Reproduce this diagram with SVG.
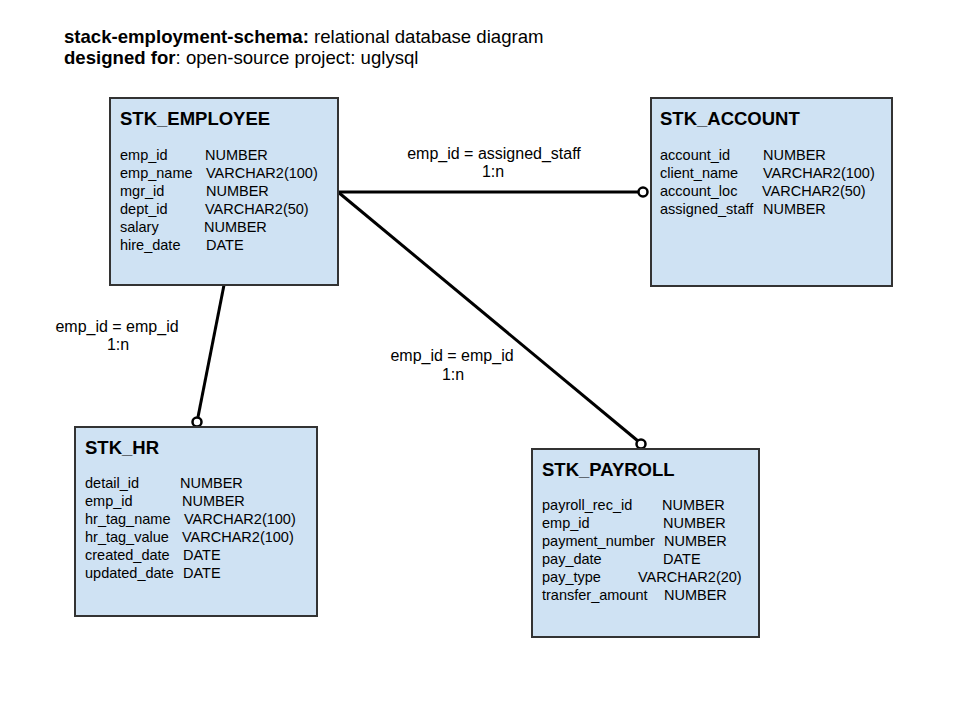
<svg xmlns="http://www.w3.org/2000/svg" width="960" height="720" viewBox="0 0 960 720">
<style>
text{font-family:"Liberation Sans",Arial,sans-serif;fill:#000}
.box{fill:#cfe2f3;stroke:#333;stroke-width:2}
.ttl{font-size:18.5px;font-weight:bold}
.fld{font-size:14.5px}
.lbl{font-size:16px;text-anchor:middle}
.hdr{font-size:18.6px}
.conn{stroke:#000;stroke-width:3;fill:none}
.end{fill:#fff;stroke:#000;stroke-width:2.5}
</style>
<rect width="960" height="720" fill="#fff"/>
<g id="header">
<text class="hdr" x="64" y="43"><tspan font-weight="bold">stack-employment-schema:</tspan> relational database diagram</text>
<text class="hdr" x="64" y="64"><tspan font-weight="bold">designed for</tspan>: open-source project: uglysql</text>
</g>
<g id="connectors">
<line class="conn" x1="338" y1="192" x2="639" y2="192"/>
<circle class="end" cx="643" cy="192" r="4.5"/>
<line class="conn" x1="224" y1="285" x2="198" y2="417"/>
<circle class="end" cx="197" cy="422" r="4.5"/>
<line class="conn" x1="338" y1="192" x2="638" y2="441"/>
<circle class="end" cx="641" cy="444" r="4.5"/>
<text class="lbl" x="494" y="159">emp_id = assigned_staff</text>
<text class="lbl" x="493" y="177">1:n</text>
<text class="lbl" x="117" y="332">emp_id = emp_id</text>
<text class="lbl" x="118" y="350">1:n</text>
<text class="lbl" x="452" y="361">emp_id = emp_id</text>
<text class="lbl" x="453" y="380">1:n</text>
</g>
<g id="stk_employee">
<rect class="box" x="110" y="98" width="228" height="187"/>
<text class="ttl" x="120" y="125">STK_EMPLOYEE</text>
<text class="fld" x="120" y="160">emp_id</text><text class="fld" x="205" y="160">NUMBER</text>
<text class="fld" x="120" y="178">emp_name</text><text class="fld" x="206" y="178">VARCHAR2(100)</text>
<text class="fld" x="120" y="196">mgr_id</text><text class="fld" x="206" y="196">NUMBER</text>
<text class="fld" x="120" y="214">dept_id</text><text class="fld" x="205" y="214">VARCHAR2(50)</text>
<text class="fld" x="120" y="232">salary</text><text class="fld" x="204" y="232">NUMBER</text>
<text class="fld" x="120" y="250">hire_date</text><text class="fld" x="206" y="250">DATE</text>
</g>
<g id="stk_account">
<rect class="box" x="651" y="98" width="241" height="188"/>
<text class="ttl" x="660" y="125">STK_ACCOUNT</text>
<text class="fld" x="660" y="160">account_id</text><text class="fld" x="763" y="160">NUMBER</text>
<text class="fld" x="660" y="178">client_name</text><text class="fld" x="763" y="178">VARCHAR2(100)</text>
<text class="fld" x="660" y="196">account_loc</text><text class="fld" x="762" y="196">VARCHAR2(50)</text>
<text class="fld" x="660" y="214">assigned_staff</text><text class="fld" x="763" y="214">NUMBER</text>
</g>
<g id="stk_hr">
<rect class="box" x="75" y="427" width="242" height="189"/>
<text class="ttl" x="85" y="454">STK_HR</text>
<text class="fld" x="85" y="488">detail_id</text><text class="fld" x="180" y="488">NUMBER</text>
<text class="fld" x="85" y="506">emp_id</text><text class="fld" x="182" y="506">NUMBER</text>
<text class="fld" x="85" y="524">hr_tag_name</text><text class="fld" x="184" y="524">VARCHAR2(100)</text>
<text class="fld" x="85" y="542">hr_tag_value</text><text class="fld" x="182" y="542">VARCHAR2(100)</text>
<text class="fld" x="85" y="560">created_date</text><text class="fld" x="183" y="560">DATE</text>
<text class="fld" x="85" y="578">updated_date</text><text class="fld" x="183" y="578">DATE</text>
</g>
<g id="stk_payroll">
<rect class="box" x="532" y="449" width="227" height="188"/>
<text class="ttl" x="542" y="476">STK_PAYROLL</text>
<text class="fld" x="542" y="510">payroll_rec_id</text><text class="fld" x="662" y="510">NUMBER</text>
<text class="fld" x="542" y="528">emp_id</text><text class="fld" x="663" y="528">NUMBER</text>
<text class="fld" x="542" y="546">payment_number</text><text class="fld" x="664" y="546">NUMBER</text>
<text class="fld" x="542" y="564">pay_date</text><text class="fld" x="663" y="564">DATE</text>
<text class="fld" x="542" y="582">pay_type</text><text class="fld" x="638" y="582">VARCHAR2(20)</text>
<text class="fld" x="542" y="600">transfer_amount</text><text class="fld" x="664" y="600">NUMBER</text>
</g>
</svg>
